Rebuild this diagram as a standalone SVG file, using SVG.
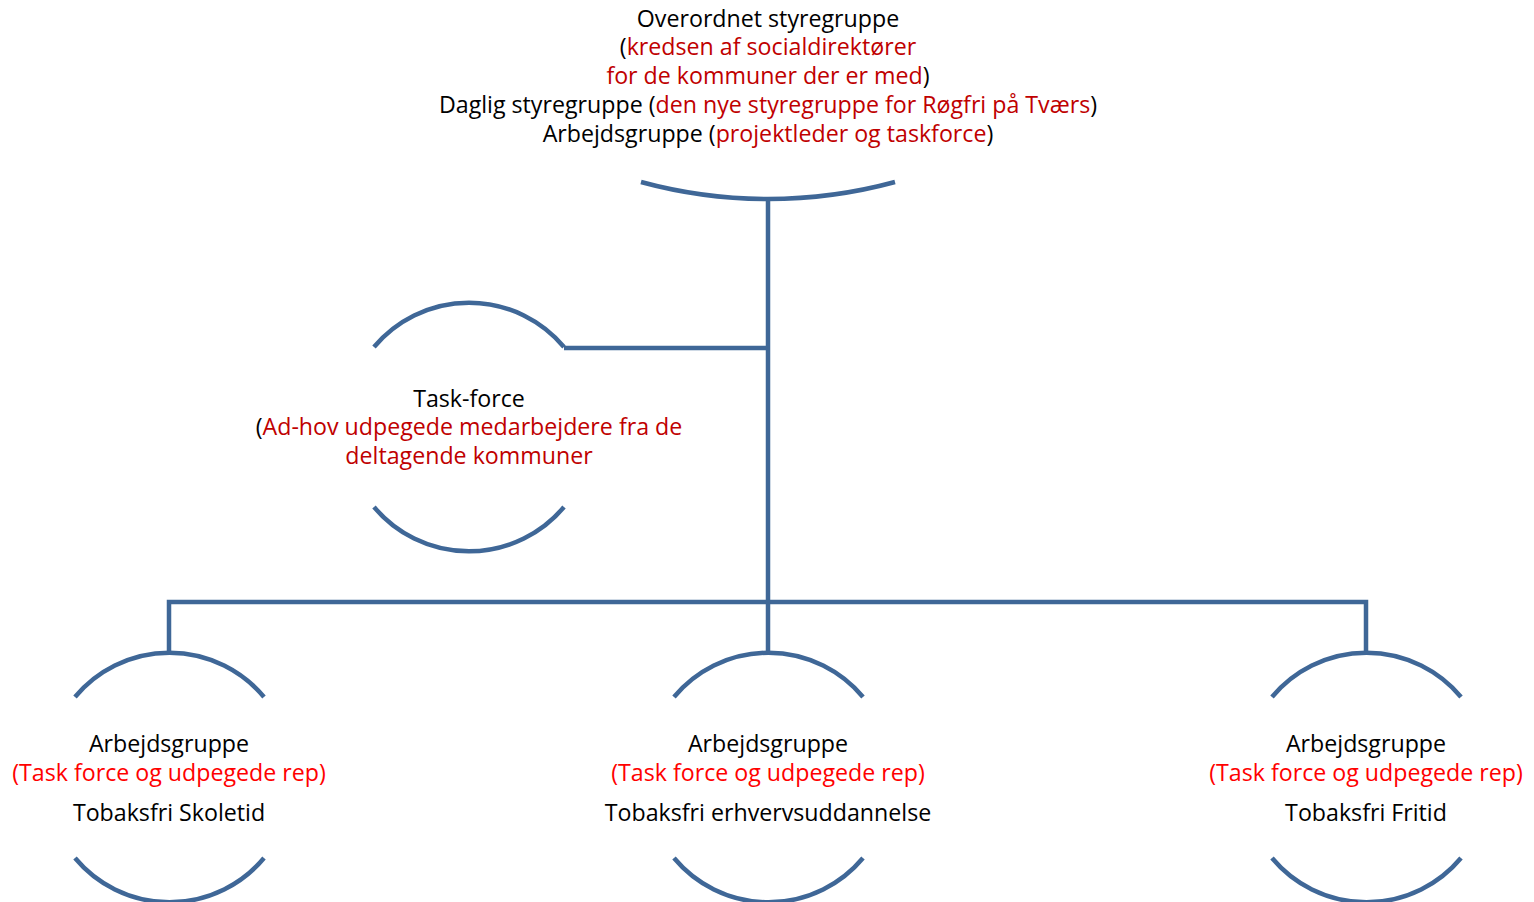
<svg xmlns="http://www.w3.org/2000/svg" width="1534" height="902" viewBox="0 0 1534 902">
<style>
.ln{fill:none;stroke:#3F6797;stroke-width:4.5}
text{font-family:"Open Sans","Liberation Sans",Arial,sans-serif;font-size:23.2px;text-anchor:middle;fill:#000}
.dr{fill:#C00000}
.br{fill:#FF0000}
</style>
<rect width="1534" height="902" fill="#fff"/>
<g id="connectors">
<path class="ln" d="M768,199 V602"/>
<path class="ln" d="M564,348 H768"/>
<path class="ln" d="M169,654 V602 H1366 V654"/>
<path class="ln" d="M768,602 V654"/>
</g>
<g id="top">
<path class="ln" d="M641,182 A483,483 0 0 0 895,182"/>
<text x="768" y="27">Overordnet styregruppe</text>
<text x="768" y="55">(<tspan class="dr">kredsen af socialdirektører</tspan></text>
<text x="768" y="84"><tspan class="dr">for de kommuner der er med</tspan>)</text>
<text x="768" y="113">Daglig styregruppe (<tspan class="dr">den nye styregruppe for Røgfri på Tværs</tspan>)</text>
<text x="768" y="142">Arbejdsgruppe (<tspan class="dr">projektleder og taskforce</tspan>)</text>
</g>
<g id="taskforce">
<path class="ln" d="M374,347 A124,124 0 0 1 564,347"/>
<path class="ln" d="M374,507 A124,124 0 0 0 564,507"/>
<text x="469" y="407">Task-force</text>
<text x="469" y="435">(<tspan class="dr">Ad-hov udpegede medarbejdere fra de</tspan></text>
<text x="469" y="464"><tspan class="dr">deltagende kommuner</tspan></text>
</g>
<g id="skoletid">
<path class="ln" d="M75,697 A123,123 0 0 1 264,697"/>
<path class="ln" d="M75,858 A123,123 0 0 0 264,858"/>
<text x="169" y="752">Arbejdsgruppe</text>
<text x="169" y="781" class="br">(Task force og udpegede rep)</text>
<text x="169" y="821">Tobaksfri Skoletid</text>
</g>
<g id="erhverv">
<path class="ln" d="M674,697 A123,123 0 0 1 863,697"/>
<path class="ln" d="M674,858 A123,123 0 0 0 863,858"/>
<text x="768" y="752">Arbejdsgruppe</text>
<text x="768" y="781" class="br">(Task force og udpegede rep)</text>
<text x="768" y="821">Tobaksfri erhvervsuddannelse</text>
</g>
<g id="fritid">
<path class="ln" d="M1272,697 A123,123 0 0 1 1461,697"/>
<path class="ln" d="M1272,858 A123,123 0 0 0 1461,858"/>
<text x="1366" y="752">Arbejdsgruppe</text>
<text x="1366" y="781" class="br">(Task force og udpegede rep)</text>
<text x="1366" y="821">Tobaksfri Fritid</text>
</g>
</svg>
